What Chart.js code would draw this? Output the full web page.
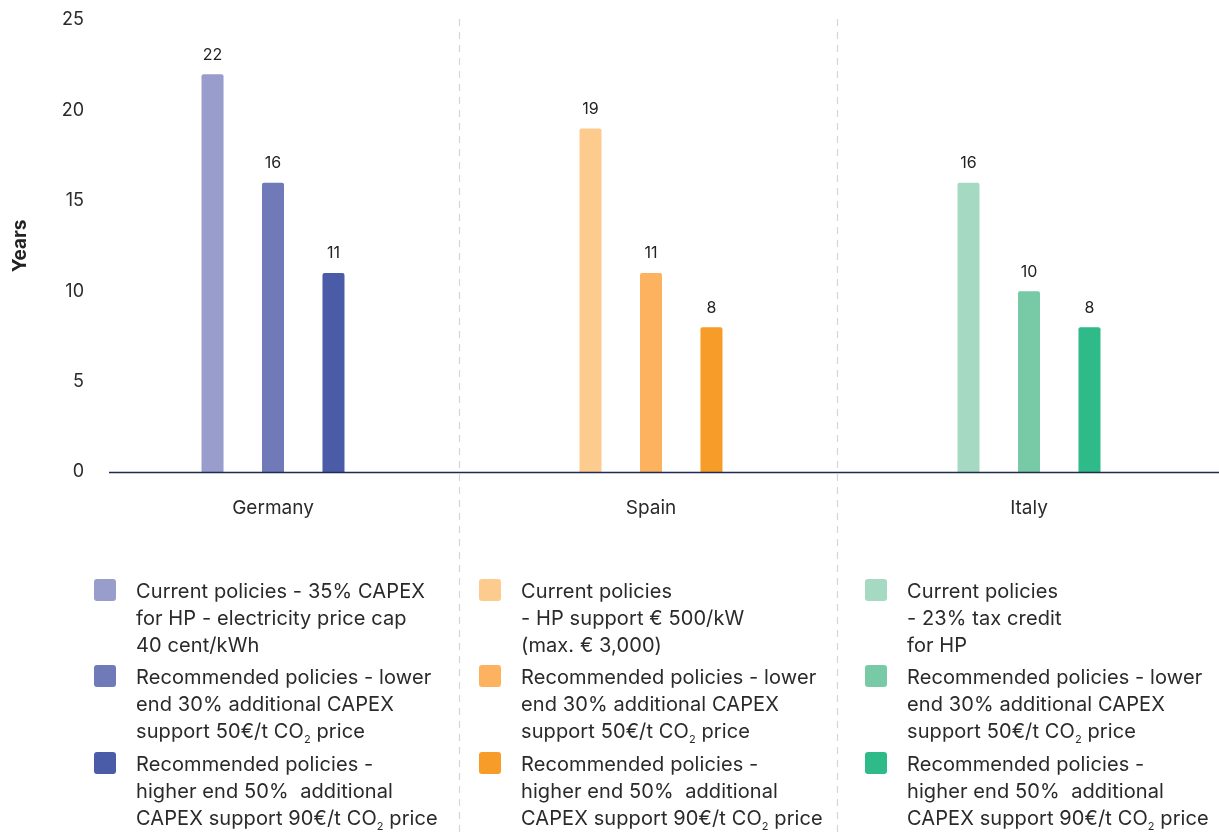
<!DOCTYPE html>
<html>
<head>
<meta charset="utf-8">
<script src="https://cdn.jsdelivr.net/npm/chart.js@4/dist/chart.umd.min.js"></script>
<style>
  html, body { margin: 0; padding: 0; background: #fff; }
  #wrap { position: relative; width: 1219px; height: 832px; overflow: hidden; }
  #c { position: absolute; left: 0; top: 0; }
  .leg { position: absolute; font-family: Inter, "Open Sans", sans-serif; font-size: 20px; color: #2a2a2a; line-height: 27px; white-space: nowrap; letter-spacing: 0.1px; }
  .sw { position: absolute; width: 22px; height: 22px; border-radius: 3px; }
  .lt { position: absolute; }
  sub { font-size: 11px; vertical-align: -5px; line-height: 0; }
</style>
</head>
<body>
<div id="wrap">
  <canvas id="c" width="1219" height="832"></canvas>
  <div id="legend"></div>
</div>
<script>
// ---- Data ----
const countries = ["Germany", "Spain", "Italy"];
const currentPolicies = [22, 19, 16];
const recommendedLower = [16, 11, 10];
const recommendedHigher = [11, 8, 8];
const yTicks = [0, 5, 10, 15, 20, 25];

const currentColors = ["#999dcc", "#fecb8f", "#a5d9c1"];
const lowerColors = ["#717ab8", "#fcb25e", "#78c9a6"];
const higherColors = ["#4a5ca8", "#f79c28", "#2fba89"];

const legendGermany = [
  "Current policies - 35% CAPEX<br>for HP - electricity price cap<br>40 cent/kWh",
  "Recommended policies - lower<br>end 30% additional CAPEX<br>support 50€/t CO<sub>2</sub> price",
  "Recommended policies -<br>higher end 50%&nbsp; additional<br>CAPEX support 90€/t CO<sub>2</sub> price"
];
const legendSpain = [
  "Current policies<br>- HP support € 500/kW<br>(max. € 3,000)",
  "Recommended policies - lower<br>end 30% additional CAPEX<br>support 50€/t CO<sub>2</sub> price",
  "Recommended policies -<br>higher end 50%&nbsp; additional<br>CAPEX support 90€/t CO<sub>2</sub> price"
];
const legendItaly = [
  "Current policies<br>- 23% tax credit<br>for HP",
  "Recommended policies - lower<br>end 30% additional CAPEX<br>support 50€/t CO<sub>2</sub> price",
  "Recommended policies -<br>higher end 50%&nbsp; additional<br>CAPEX support 90€/t CO<sub>2</sub> price"
];

// ---- Legend (HTML) ----
(function buildLegend() {
  const cols = [legendGermany, legendSpain, legendItaly];
  const colLeft = [94, 479, 865];
  const itemTop = [578, 664, 751];
  const palettes = [currentColors, lowerColors, higherColors];
  const host = document.getElementById('legend');
  cols.forEach((items, ci) => {
    items.forEach((txt, ii) => {
      const d = document.createElement('div');
      d.className = 'leg';
      d.style.left = colLeft[ci] + 'px';
      d.style.top = itemTop[ii] + 'px';
      d.innerHTML = '<div class="sw" style="left:0;top:1px;background:' + palettes[ii][ci] + '"></div>' +
                    '<div class="lt" style="left:42px;top:0">' + txt + '</div>';
      host.appendChild(d);
    });
  });
})();

// ---- Plugins ----
const FONT = 'Inter, "Open Sans", sans-serif';
const decor = {
  id: 'decor',
  beforeDatasetsDraw(chart) {
    const { ctx, chartArea, scales } = chart;
    const x = scales.x;
    ctx.save();
    // dashed dividers between groups
    ctx.strokeStyle = '#d6d6d6';
    ctx.lineWidth = 1.2;
    ctx.setLineDash([7, 6]);
    for (let i = 0; i < countries.length - 1; i++) {
      const px = Math.round((x.getPixelForTick(i) + x.getPixelForTick(i + 1)) / 2) - 2.5;
      ctx.beginPath();
      ctx.moveTo(px, chartArea.top - 1);
      ctx.lineTo(px, chart.height);
      ctx.stroke();
    }
    ctx.restore();
  },
  afterDatasetsDraw(chart) {
    const { ctx, chartArea, scales } = chart;
    const y = scales.y;
    ctx.save();
    // baseline
    const y0 = Math.round(y.getPixelForValue(0)) + 0.5;
    ctx.strokeStyle = '#1d2b4f';
    ctx.lineWidth = 1.3;
    ctx.beginPath();
    ctx.moveTo(chartArea.left + 25, y0);
    ctx.lineTo(chart.width, y0);
    ctx.stroke();
    // value labels
    ctx.fillStyle = '#222';
    ctx.font = '16px ' + FONT;
    ctx.textAlign = 'center';
    ctx.textBaseline = 'middle';
    chart.data.datasets.forEach((ds, di) => {
      const meta = chart.getDatasetMeta(di);
      meta.data.forEach((bar, i) => {
        ctx.fillText(String(ds.data[i]), bar.x, bar.y - 19.5);
      });
    });
    ctx.restore();
  }
};

new Chart(document.getElementById('c'), {
  type: 'bar',
  data: {
    labels: countries,
    datasets: [
      { label: 'Current policies', data: currentPolicies, backgroundColor: currentColors },
      { label: 'Recommended policies - lower end', data: recommendedLower, backgroundColor: lowerColors },
      { label: 'Recommended policies - higher end', data: recommendedHigher, backgroundColor: higherColors }
    ]
  },
  options: {
    responsive: false,
    animation: false,
    devicePixelRatio: 1,
    layout: { padding: { top: 20, right: 1, bottom: 300, left: 0 } },
    datasets: {
      bar: { categoryPercentage: 0.48, barPercentage: 0.364, borderRadius: 2, borderSkipped: 'bottom' }
    },
    plugins: {
      legend: { display: false },
      tooltip: { enabled: false }
    },
    scales: {
      x: {
        grid: { display: false, drawTicks: false },
        border: { display: false },
        ticks: { color: '#2a2a2a', font: { family: FONT, size: 19 }, padding: 25 },
        afterFit(scale) { scale.height = 60; }
      },
      y: {
        min: 0, max: 25,
        afterBuildTicks(scale) { scale.ticks = yTicks.map(v => ({ value: v })); },
        grid: { display: false, drawTicks: false },
        border: { display: false },
        ticks: { color: '#2a2a2a', font: { family: FONT, size: 18 }, padding: 0 },
        title: { display: true, text: 'Years', color: '#222', font: { family: FONT, size: 19, weight: 'bold' }, padding: { top: 9, bottom: 0 } },
        afterFit(scale) { scale.width = 84; }
      }
    }
  },
  plugins: [decor]
});
</script>
</body>
</html>
